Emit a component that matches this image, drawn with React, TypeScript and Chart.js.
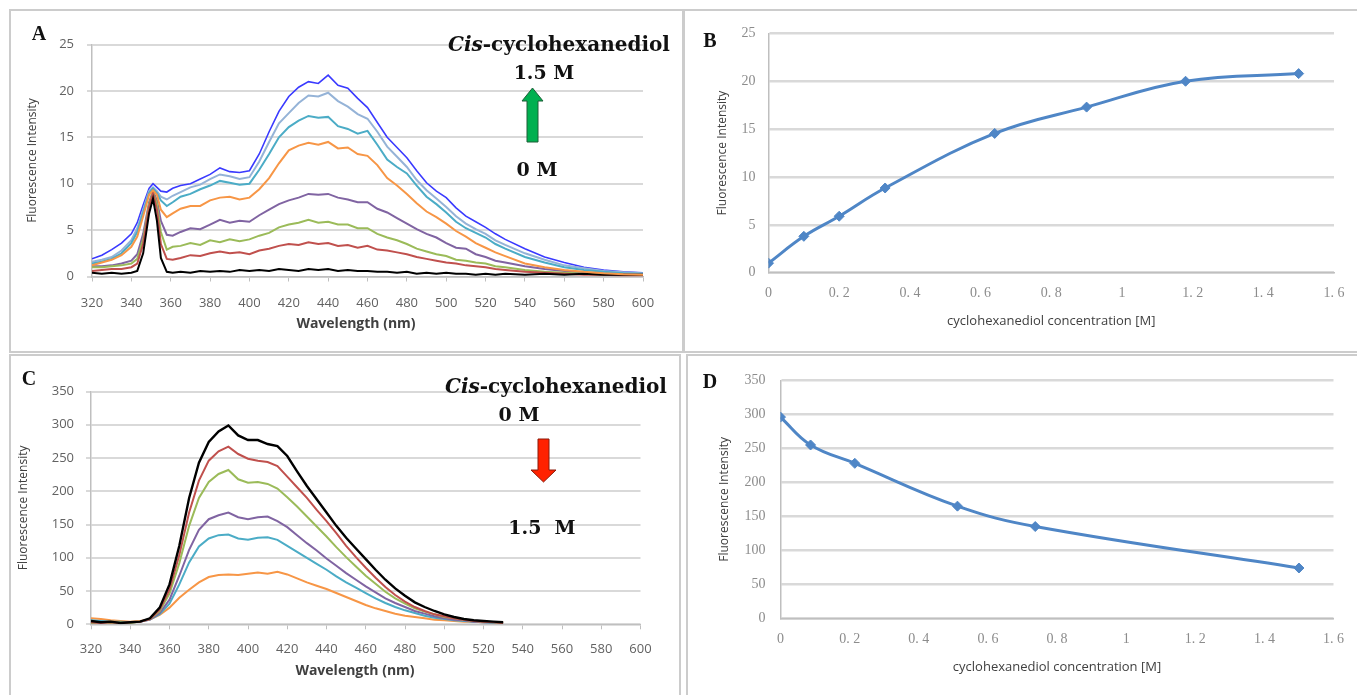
import React, { useEffect, useRef } from "react";
import { Chart, registerables } from "chart.js";
Chart.register(...registerables);

// ---------- Panel A: emission spectra (increasing cyclohexanediol) ----------
const wavelengthsA = [
  320, 325, 330, 335, 340, 343, 346, 349, 351, 353, 355, 358, 361,
  365, 370, 375, 380, 385, 390, 395, 400, 405, 410, 415, 420, 425, 430, 435, 440, 445, 450, 455, 460,
  465, 470, 475, 480, 485, 490, 495, 500, 505, 510, 515, 520, 525, 530,
  540, 550, 560, 570, 580, 590, 600,
];
const specA_0M = [
  0.4, 0.3, 0.4, 0.3, 0.4, 0.6, 2.5, 6.8, 8.4, 6.0, 2.0, 0.5, 0.4,
  0.5, 0.4, 0.6, 0.5, 0.6, 0.5, 0.7, 0.6, 0.7, 0.6, 0.8, 0.7, 0.6, 0.8, 0.7, 0.8, 0.6, 0.7, 0.6, 0.6,
  0.5, 0.5, 0.4, 0.5, 0.3, 0.4, 0.3, 0.4, 0.3, 0.3, 0.2, 0.3, 0.2, 0.3,
  0.2, 0.3, 0.2, 0.3, 0.2, 0.2, 0.2,
];
const specA_red = [
  0.6, 0.7, 0.8, 0.8, 1.0, 1.4, 3.5, 7.5, 9.0, 7.2, 3.5, 1.9, 1.8,
  2.0, 2.3, 2.2, 2.5, 2.7, 2.5, 2.6, 2.4, 2.8, 3.0, 3.3, 3.5, 3.4, 3.7, 3.5, 3.6, 3.3, 3.4, 3.1, 3.3,
  2.9, 2.8, 2.6, 2.4, 2.1, 1.9, 1.7, 1.5, 1.4, 1.2, 1.1, 1.0, 0.8, 0.7,
  0.5, 0.4, 0.3, 0.2, 0.2, 0.1, 0.1,
];
const specA_green = [
  1.0, 1.0, 1.1, 1.2, 1.4, 1.9, 4.0, 7.8, 9.1, 7.8, 4.8, 2.9, 3.2,
  3.3, 3.6, 3.4, 3.9, 3.7, 4.0, 3.8, 4.0, 4.4, 4.7, 5.3, 5.6, 5.8, 6.1, 5.8, 5.9, 5.6, 5.6, 5.2, 5.2,
  4.6, 4.2, 3.9, 3.5, 3.0, 2.7, 2.4, 2.2, 1.8, 1.7, 1.5, 1.4, 1.1, 1.0,
  0.7, 0.5, 0.4, 0.3, 0.2, 0.2, 0.15,
];
const specA_purple = [
  1.1, 1.1, 1.2, 1.4, 1.7, 2.4, 4.6, 8.0, 9.2, 8.2, 6.0, 4.5, 4.4,
  4.8, 5.2, 5.1, 5.6, 6.1, 5.8, 6.0, 5.9, 6.6, 7.2, 7.8, 8.2, 8.5, 8.9, 8.8, 8.9, 8.5, 8.3, 8.0, 8.0,
  7.3, 6.9, 6.3, 5.7, 5.1, 4.6, 4.2, 3.6, 3.1, 3.0, 2.4, 2.1, 1.7, 1.5,
  1.1, 0.8, 0.6, 0.4, 0.3, 0.25, 0.2,
];
const specA_orange = [
  1.2, 1.5, 1.8, 2.3, 3.2, 4.3, 6.5, 8.8, 9.3, 8.8, 7.2, 6.4, 6.8,
  7.3, 7.6, 7.6, 8.2, 8.5, 8.6, 8.3, 8.5, 9.4, 10.6, 12.2, 13.6, 14.1, 14.4, 14.2, 14.5, 13.8, 13.9, 13.2, 13.0,
  12.0, 10.6, 9.8, 8.9, 7.9, 7.0, 6.4, 5.7, 4.9, 4.3, 3.6, 3.1, 2.6, 2.2,
  1.4, 1.0, 0.7, 0.5, 0.35, 0.25, 0.2,
];
const specA_teal = [
  1.4, 1.6, 1.9, 2.5, 3.6, 4.8, 6.9, 9.0, 9.5, 9.0, 8.2, 7.6, 8.0,
  8.6, 8.9, 9.4, 9.8, 10.3, 10.1, 9.9, 10.0, 11.5, 13.2, 15.0, 16.1, 16.8, 17.3, 17.1, 17.2, 16.2, 15.9, 15.4, 15.7,
  14.2, 12.6, 11.8, 11.1, 9.8, 8.6, 7.8, 6.9, 5.9, 5.2, 4.7, 4.2, 3.5, 3.0,
  2.1, 1.5, 1.0, 0.7, 0.5, 0.35, 0.3,
];
const specA_lightblue = [
  1.6, 1.8, 2.1, 2.8, 3.9, 5.2, 7.2, 9.2, 9.6, 9.2, 8.6, 8.3, 8.7,
  9.1, 9.6, 9.9, 10.5, 11.0, 10.8, 10.5, 10.7, 12.4, 14.5, 16.5, 17.6, 18.7, 19.5, 19.4, 19.8, 18.9, 18.3, 17.5, 17.0,
  15.6, 14.0, 12.9, 11.8, 10.4, 9.3, 8.4, 7.5, 6.5, 5.7, 5.1, 4.6, 3.9, 3.4,
  2.5, 1.8, 1.2, 0.9, 0.6, 0.45, 0.35,
];
const specA_15M = [
  1.9, 2.3, 2.9, 3.6, 4.6, 5.8, 7.7, 9.5, 10.0, 9.6, 9.2, 9.1, 9.5,
  9.8, 10.0, 10.5, 11.0, 11.7, 11.3, 11.2, 11.4, 13.2, 15.6, 17.8, 19.4, 20.4, 21.0, 20.8, 21.7, 20.6, 20.3, 19.2, 18.2,
  16.6, 15.0, 13.9, 12.8, 11.4, 10.1, 9.2, 8.5, 7.4, 6.5, 5.9, 5.3, 4.6, 4.0,
  3.0, 2.1, 1.5, 1.0, 0.7, 0.5, 0.4,
];

// ---------- Panel C: emission spectra (decreasing) ----------
const wavelengthsC = [
  320, 325, 330, 335, 340, 345, 350, 355, 360, 365, 370, 375, 380, 385, 390, 395, 400, 405, 410, 415, 420,
  425, 430, 435, 440, 445, 450, 455, 460, 465, 470, 475, 480, 485, 490, 495, 500, 505, 510, 515, 520, 525, 530,
];
const specC_0M = [
  5, 3, 4, 2, 3, 4, 9, 25, 60, 118, 190, 243, 274, 290, 299, 284, 277, 277, 271, 268, 253,
  230, 208, 188, 168, 148, 130, 114, 98, 82, 67, 54, 43, 33, 26, 20, 15, 11, 8, 6, 5, 4, 3,
];
const specC_red = [
  3, 2, 3, 2, 3, 4, 8, 22, 52, 104, 168, 216, 246, 260, 267, 256, 249, 246, 244, 238, 222,
  206, 190, 172, 155, 137, 118, 101, 85, 70, 56, 44, 34, 26, 20, 15, 12, 9, 7, 5, 4, 3, 2,
];
const specC_green = [
  2, 3, 2, 3, 2, 4, 8, 20, 46, 92, 148, 190, 214, 226, 232, 218, 213, 214, 211, 204, 191,
  177, 162, 147, 132, 116, 101, 87, 73, 61, 49, 39, 31, 24, 19, 15, 11, 9, 7, 5, 4, 3, 2,
];
const specC_purple = [
  3, 2, 3, 2, 3, 4, 7, 17, 37, 73, 112, 142, 158, 164, 168, 161, 158, 161, 162, 155, 146,
  134, 122, 111, 99, 88, 77, 67, 57, 48, 39, 32, 26, 20, 16, 12, 9, 7, 6, 4, 3, 3, 2,
];
const specC_teal = [
  6, 5, 4, 4, 3, 4, 7, 15, 31, 60, 93, 117, 129, 134, 135, 129, 127, 130, 131, 127, 118,
  109, 100, 91, 82, 72, 63, 55, 47, 39, 32, 26, 21, 17, 13, 10, 8, 6, 5, 4, 3, 2, 2,
];
const specC_orange = [
  9, 8, 6, 5, 4, 5, 7, 14, 25, 40, 52, 63, 71, 74, 75, 74, 76, 78, 76, 79, 75,
  69, 63, 58, 53, 47, 41, 35, 29, 24, 20, 16, 13, 11, 9, 7, 6, 5, 4, 4, 3, 3, 3,
];

// ---------- Panels B and D: intensity vs concentration ----------
const concB = [0, 0.1, 0.2, 0.33, 0.64, 0.9, 1.18, 1.5];
const intensityB = [1.0, 3.8, 5.9, 8.85, 14.55, 17.3, 20.0, 20.8];
const concD = [0, 0.087, 0.215, 0.512, 0.737, 1.5];
const intensityD = [296, 255, 228, 165, 135, 74];

// ---------- Tick values / labels ----------
const wavelengthTicks = [320, 340, 360, 380, 400, 420, 440, 460, 480, 500, 520, 540, 560, 580, 600];
const ticksA_y = [0, 5, 10, 15, 20, 25];
const ticksC_y = [0, 50, 100, 150, 200, 250, 300, 350];
const concTicks = [0, 0.2, 0.4, 0.6, 0.8, 1, 1.2, 1.4, 1.6];
const concTickLabels = ["0", "0. 2", "0. 4", "0. 6", "0. 8", "1", "1. 2", "1. 4", "1. 6"];

const C_BLACK = "#000000";
const C_RED = "#c0504d";
const C_GREEN = "#9bbb59";
const C_PURPLE = "#8064a2";
const C_ORANGE = "#f79646";
const C_TEAL = "#4bacc6";
const C_LIGHTBLUE = "#95b3d7";
const C_BLUE = "#3a3aff";
const C_SERIES = "#4f86c6";

const SANS = "'Open Sans', 'Noto Sans', sans-serif";
const SERIF = "'Liberation Serif', 'DejaVu Serif', serif";
const GRID = "#d9d9d9";
const AXIS = "#bfbfbf";

type Geom = {
  left: number; top: number; width: number; height: number;
  areaLeft: number; areaTop: number; areaRight: number; areaBottom: number;
};

const geomA: Geom = { left: 11, top: 12, width: 670, height: 338, areaLeft: 92, areaTop: 44.5, areaRight: 643, areaBottom: 276.5 };
const geomB: Geom = { left: 685, top: 12, width: 672, height: 338, areaLeft: 768.5, areaTop: 31.7, areaRight: 1334, areaBottom: 272.7 };
const geomC: Geom = { left: 11, top: 357, width: 668, height: 338, areaLeft: 91, areaTop: 391.5, areaRight: 640.5, areaBottom: 624.3 };
const geomD: Geom = { left: 689, top: 357, width: 668, height: 338, areaLeft: 780.5, areaTop: 378.3, areaRight: 1334, areaBottom: 618.3 };

function toPoints(xs: number[], ys: number[]) {
  return xs.map((x, i) => ({ x, y: ys[i] }));
}

function baseOptions(g: Geom, x: any, y: any) {
  return {
    animation: false,
    responsive: false,
    devicePixelRatio: 1,
    events: [],
    layout: { padding: { left: 0, top: g.areaTop - g.top, right: g.left + g.width - g.areaRight, bottom: 0 } },
    plugins: { legend: { display: false }, tooltip: { enabled: false }, title: { display: false } },
    scales: {
      x: { ...x, afterFit: (s: any) => { s.height = g.top + g.height - g.areaBottom; } },
      y: { ...y, afterFit: (s: any) => { s.width = g.areaLeft - g.left; } },
    },
  };
}

function spectrumConfig(g: Geom, xs: number[], series: { values: number[]; color: string; width: number }[],
  yTicks: number[], xTickPad: number, yTickPad: number, yTitlePad: number) {
  const x = {
    type: "linear",
    min: 320,
    max: 600,
    afterBuildTicks: (s: any) => { s.ticks = wavelengthTicks.map((v) => ({ value: v })); },
    grid: { display: true, drawOnChartArea: false, drawTicks: true, tickLength: 5, color: AXIS, lineWidth: 1 },
    border: { display: true, color: AXIS, width: 1.5 },
    ticks: { color: "#626262", font: { family: SANS, size: 13 }, padding: xTickPad, maxRotation: 0, autoSkip: false },
    title: { display: false },
  };
  const y = {
    type: "linear",
    min: yTicks[0],
    max: yTicks[yTicks.length - 1],
    afterBuildTicks: (s: any) => { s.ticks = yTicks.map((v) => ({ value: v })); },
    grid: { color: GRID, lineWidth: 2, drawTicks: true, tickLength: 5 },
    border: { display: true, color: AXIS, width: 1.5 },
    ticks: { color: "#626262", font: { family: SANS, size: 13 }, padding: yTickPad },
    title: {
      display: true, text: "Fluorescence Intensity", color: "#404040",
      font: { family: SANS, size: 12 }, padding: { top: yTitlePad, bottom: 0 },
    },
  };
  return {
    type: "line",
    data: {
      datasets: series.map((s) => ({
        data: toPoints(xs, s.values),
        borderColor: s.color,
        backgroundColor: s.color,
        borderWidth: s.width,
        pointRadius: 0,
        tension: 0,
        fill: false,
      })),
    },
    options: baseOptions(g, x, y),
  };
}

function titrationConfig(g: Geom, xs: number[], ys: number[], yTicks: number[],
  xTickPad: number, yTickPad: number, yTitlePad: number, xTitlePad: number) {
  const x = {
    type: "linear",
    min: 0,
    max: 1.6,
    afterBuildTicks: (s: any) => { s.ticks = concTicks.map((v) => ({ value: v })); },
    grid: { display: false, drawTicks: false },
    border: { display: true, color: AXIS, width: 1.5 },
    ticks: {
      color: "#8c8c8c", font: { family: SERIF, size: 14 }, padding: xTickPad, maxRotation: 0, autoSkip: false,
      callback: (_v: any, i: number) => concTickLabels[i],
    },
    title: {
      display: true, text: "cyclohexanediol concentration [M]", color: "#404040",
      font: { family: SANS, size: 13 }, padding: { top: 0, bottom: xTitlePad },
    },
  };
  const y = {
    type: "linear",
    min: yTicks[0],
    max: yTicks[yTicks.length - 1],
    afterBuildTicks: (s: any) => { s.ticks = yTicks.map((v) => ({ value: v })); },
    grid: { color: GRID, lineWidth: 2.5, drawTicks: false },
    border: { display: true, color: AXIS, width: 1.5 },
    ticks: { color: "#8c8c8c", font: { family: SERIF, size: 14 }, padding: yTickPad },
    title: {
      display: true, text: "Fluorescence Intensity", color: "#404040",
      font: { family: SANS, size: 12 }, padding: { top: yTitlePad, bottom: 0 },
    },
  };
  return {
    type: "line",
    data: {
      datasets: [{
        data: toPoints(xs, ys),
        borderColor: C_SERIES,
        backgroundColor: C_SERIES,
        borderWidth: 3,
        tension: 0.4,
        pointStyle: "rectRot",
        pointRadius: 5,
        pointBackgroundColor: C_SERIES,
        pointBorderColor: C_SERIES,
        pointBorderWidth: 1,
        fill: false,
      }],
    },
    options: baseOptions(g, x, y),
  };
}

function ChartCanvas({ g, make }: { g: Geom; make: () => any }) {
  const ref = useRef<HTMLCanvasElement>(null);
  useEffect(() => {
    if (!ref.current) return;
    const chart = new Chart(ref.current, make());
    return () => chart.destroy();
  }, []);
  return (
    <canvas
      ref={ref}
      width={g.width}
      height={g.height}
      style={{ position: "absolute", left: g.left, top: g.top, width: g.width, height: g.height }}
    />
  );
}

function Txt({ x, y, size, family, weight, color, children }: any) {
  return (
    <div
      style={{
        position: "absolute", left: x, top: y, transform: "translate(-50%, -50%)",
        whiteSpace: "pre", fontSize: size, fontFamily: family, fontWeight: weight ?? "bold",
        color: color ?? "#111", lineHeight: 1,
      }}
    >
      {children}
    </div>
  );
}

function Line({ x, y, w, h }: { x: number; y: number; w: number; h: number }) {
  return <div style={{ position: "absolute", left: x, top: y, width: w, height: h, background: "#cccccc" }} />;
}

const ANN = "'DejaVu Serif', 'Liberation Serif', serif";

export default function App() {
  const makeA = () => spectrumConfig(geomA, wavelengthsA, [
    { values: specA_orange, color: C_ORANGE, width: 2 },
    { values: specA_0M, color: C_BLACK, width: 2 },
    { values: specA_red, color: C_RED, width: 2 },
    { values: specA_green, color: C_GREEN, width: 2 },
    { values: specA_purple, color: C_PURPLE, width: 2 },
    { values: specA_teal, color: C_TEAL, width: 2 },
    { values: specA_lightblue, color: C_LIGHTBLUE, width: 2 },
    { values: specA_15M, color: C_BLUE, width: 1.6 },
  ], ticksA_y, 14, 13, 14.3);
  const makeC = () => spectrumConfig(geomC, wavelengthsC, [
    { values: specC_0M, color: C_BLACK, width: 2.4 },
    { values: specC_red, color: C_RED, width: 2 },
    { values: specC_green, color: C_GREEN, width: 2 },
    { values: specC_purple, color: C_PURPLE, width: 2 },
    { values: specC_teal, color: C_TEAL, width: 2 },
    { values: specC_orange, color: C_ORANGE, width: 2 },
  ], ticksC_y, 12, 12, 5.8);
  const makeB = () => titrationConfig(geomB, concB, intensityB, ticksA_y, 12, 13, 30.8, 20.5);
  const makeD = () => titrationConfig(geomD, concD, intensityD, ticksC_y, 13, 15, 28.3, 19.5);

  return (
    <div style={{ position: "absolute", left: 0, top: 0, width: 1357, height: 695, background: "#fff", overflow: "hidden" }}>
      {/* panel frames */}
      <Line x={9} y={9} w={1348} h={2} />
      <Line x={9} y={9} w={2} h={343} />
      <Line x={682} y={9} w={3} h={343} />
      <Line x={9} y={351} w={1348} h={2} />
      <Line x={9} y={354} w={671} h={2} />
      <Line x={9} y={354} w={2} h={341} />
      <Line x={679} y={354} w={2} h={341} />
      <Line x={686} y={354} w={671} h={2} />
      <Line x={686} y={354} w={2} h={341} />

      <ChartCanvas g={geomA} make={makeA} />
      <ChartCanvas g={geomB} make={makeB} />
      <ChartCanvas g={geomC} make={makeC} />
      <ChartCanvas g={geomD} make={makeD} />

      {/* x-axis titles of spectra */}
      <Txt x={356} y={323} size={14} family={SANS} weight="bold" color="#404040">Wavelength (nm)</Txt>
      <Txt x={355} y={670} size={14} family={SANS} weight="bold" color="#404040">Wavelength (nm)</Txt>

      {/* panel letters */}
      <Txt x={39} y={33} size={20} family={SERIF}>A</Txt>
      <Txt x={710} y={40} size={20} family={SERIF}>B</Txt>
      <Txt x={29} y={378} size={20} family={SERIF}>C</Txt>
      <Txt x={710} y={381} size={20} family={SERIF}>D</Txt>

      {/* annotations */}
      <Txt x={559} y={44} size={20} family={ANN}><i>Cis</i>-cyclohexanediol</Txt>
      <Txt x={544} y={72} size={19} family={ANN}>1.5 M</Txt>
      <Txt x={537} y={169} size={19} family={ANN}>0 M</Txt>
      <Txt x={556} y={386} size={20} family={ANN}><i>Cis</i>-cyclohexanediol</Txt>
      <Txt x={519} y={414} size={19} family={ANN}>0 M</Txt>
      <Txt x={542} y={527} size={19} family={ANN}>{"1.5  M"}</Txt>

      <svg width={1357} height={695} style={{ position: "absolute", left: 0, top: 0, pointerEvents: "none" }}>
        <polygon
          points="532.5,88 543,101 538,101 538,142 527,142 527,101 522,101"
          fill="#00b050" stroke="#1d5e36" strokeWidth={1}
        />
        <polygon
          points="538,439 549,439 549,470 556,470 543.5,482 531,470 538,470"
          fill="#ff2200" stroke="#8b1a0a" strokeWidth={1}
        />
      </svg>
    </div>
  );
}
